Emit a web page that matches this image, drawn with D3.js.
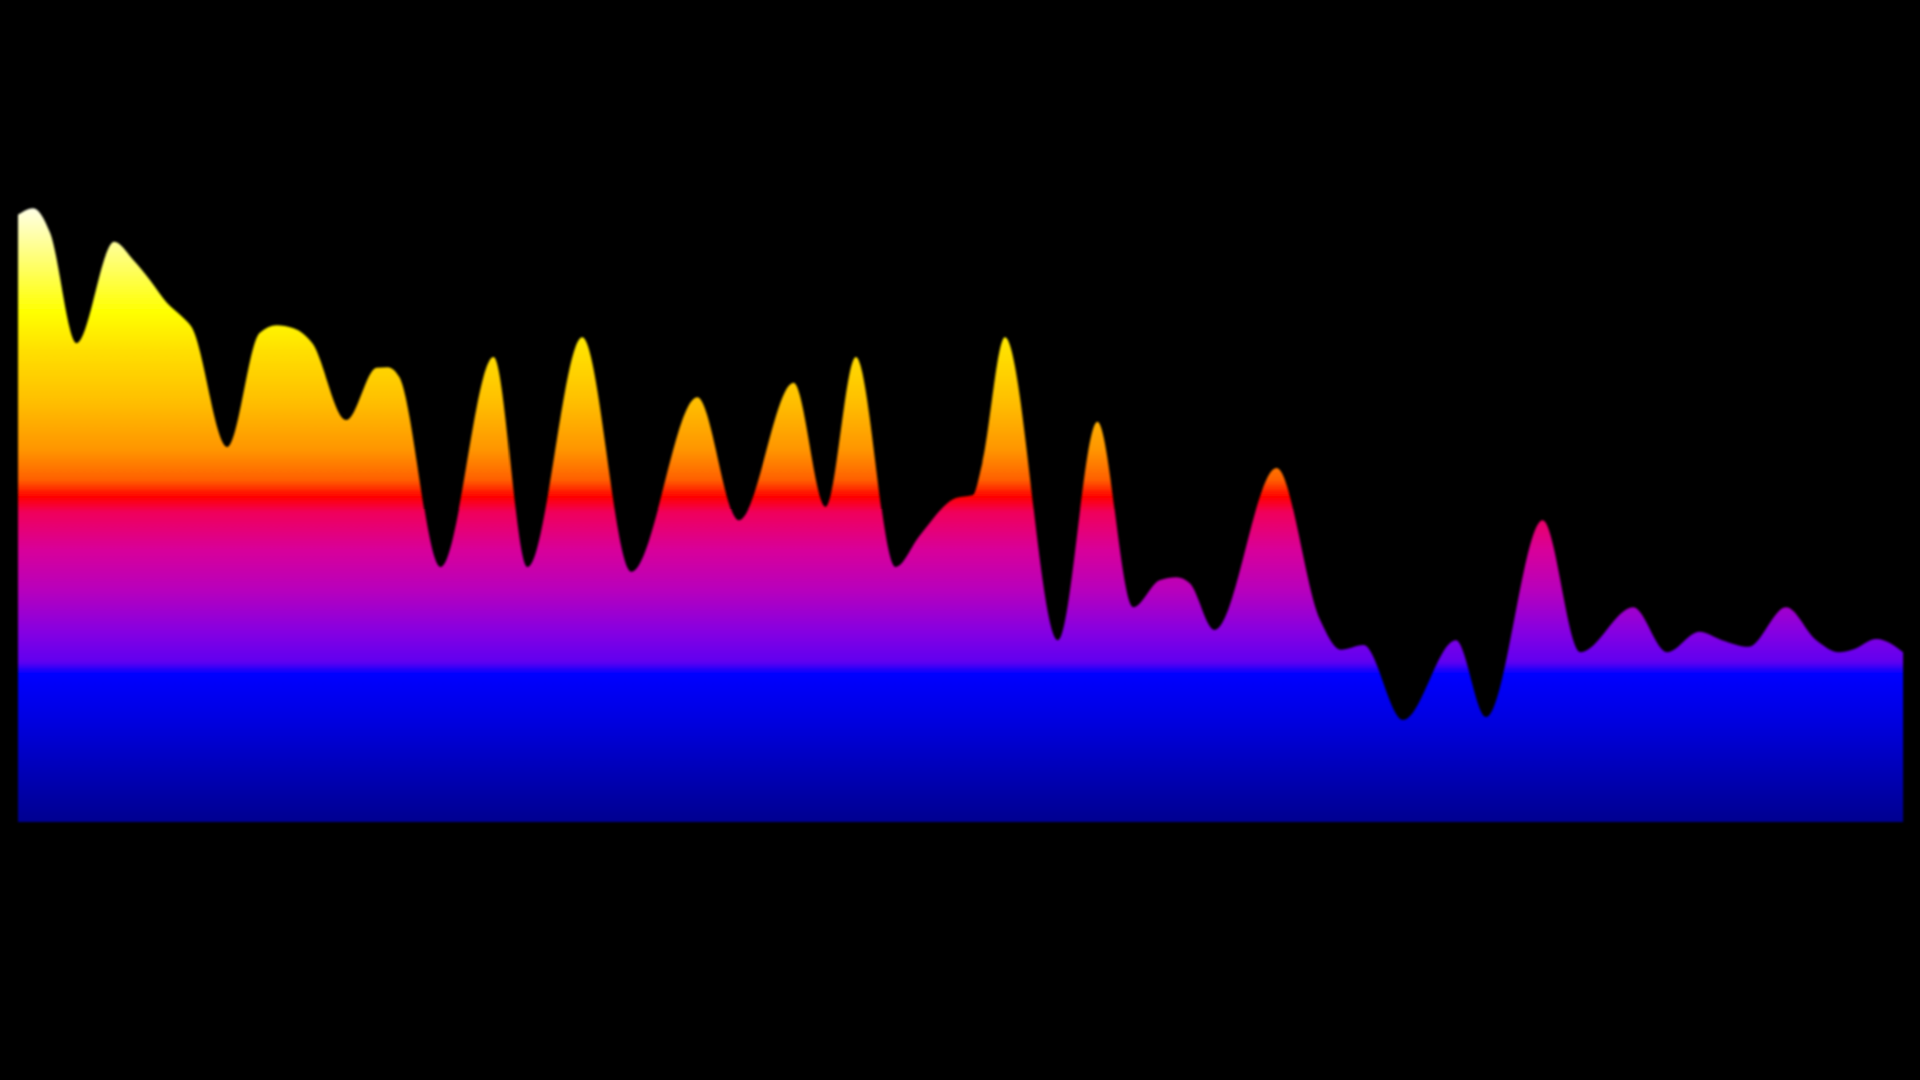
<!DOCTYPE html>
<html>

<head>
    <meta charset="UTF-8">
    <title>Gradient Area</title>
    <style>
        html, body {
            margin: 0;
            padding: 0;
            background-color: black;
            overflow: hidden;
        }
    </style>
</head>

<body>
    <svg></svg>
    <script src="https://d3js.org/d3.v7.min.js"></script>
    <script>
        // data (x in 0..100, value in 0..100)
        let xVal = [0, 0.8, 1.7, 3.1, 5.1, 6.1, 7.0, 7.9, 8.7, 9.2,
            11.1, 12.8, 13.7, 14.6, 15.6, 17.4, 19.0, 19.6, 20.2, 22.4,
            25.2, 27.0, 29.9, 32.5, 36.0, 38.2, 41.1, 42.8, 44.4, 46.5,
            47.8, 49.7, 50.6, 51.1, 52.3, 55.1, 57.2, 59.1, 60.5, 61.4,
            62.1, 63.4, 66.7, 69.0, 70.1, 71.3, 73.4, 76.2, 77.8, 80.8,
            82.8, 85.6, 87.4, 89.1, 90.3, 91.7, 93.7, 95.3, 96.5, 97.2,
            98.5, 99.9];
        let yVal = [101.2, 102.3, 98.2, 79.8, 96.7, 93.7, 90.3, 86.5, 84.2, 82.5,
            62.5, 81.5, 82.8, 82.3, 79.8, 67.0, 75.7, 75.8, 74.2, 42.5,
            77.5, 42.5, 80.8, 41.7, 70.8, 50.3, 73.2, 52.5, 77.5, 42.5,
            47.8, 54.0, 54.5, 59.8, 80.8, 30.3, 66.7, 35.8, 40.3, 40.8,
            39.8, 32.0, 59.0, 33.7, 28.7, 29.5, 17.0, 30.3, 17.5, 50.3,
            28.3, 35.8, 28.3, 31.7, 30.3, 29.2, 35.8, 30.3, 28.3, 28.7,
            30.5, 28.3];

        let gradientStops = [
            [208, "#ffffe6"], [312, "#ffff00"], [350, "#ffe000"], [400, "#ffc000"],
            [450, "#ff9500"], [480, "#ff6000"], [497, "#ff0000"], [512, "#f0005a"],
            [550, "#d8009a"], [590, "#b800bc"], [630, "#8800e0"], [662, "#6000f0"],
            [674, "#0000ff"], [720, "#0000e0"], [770, "#0000b8"], [822, "#000090"]
        ];

        let width = 1920, height = 1080;

        let svg = d3.select("svg")
            .attr("width", width)
            .attr("height", height)
            .style("display", "block");

        let x = d3.scaleLinear().domain([0, 100]).range([18, 1905]);
        let y = d3.scaleLinear().domain([0, 100]).range([822, 222]);

        let data = xVal.map((d, i) => ({ x: d, y: yVal[i] }));

        let defs = svg.append("defs");

        let grad = defs.append("linearGradient")
            .attr("id", "areaGrad")
            .attr("gradientUnits", "userSpaceOnUse")
            .attr("x1", 0).attr("x2", 0)
            .attr("y1", 208).attr("y2", 822);

        grad.selectAll("stop")
            .data(gradientStops)
            .enter()
            .append("stop")
            .attr("offset", d => (d[0] - 208) / (822 - 208))
            .attr("stop-color", d => d[1]);

        defs.append("filter")
            .attr("id", "soft")
            .append("feGaussianBlur")
            .attr("stdDeviation", 0.9);

        let area = d3.area()
            .x(d => x(d.x))
            .y0(y(0))
            .y1(d => y(d.y))
            .curve(d3.curveMonotoneX);

        svg.append("path")
            .datum(data)
            .attr("fill", "url(#areaGrad)")
            .attr("filter", "url(#soft)")
            .attr("d", area);
    </script>

</body>

</html>
